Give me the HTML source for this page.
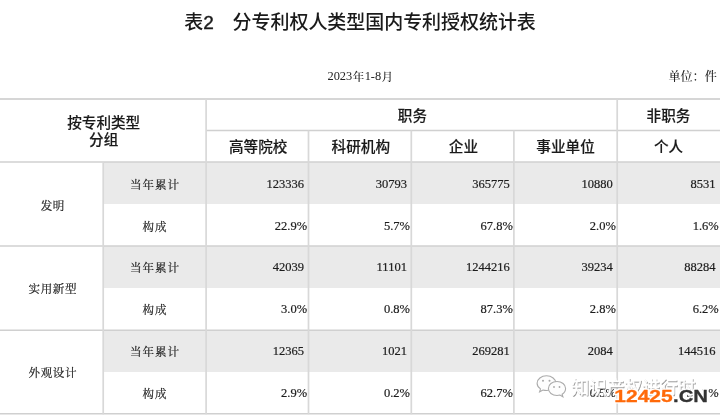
<!DOCTYPE html>
<html lang="zh-CN">
<head>
<meta charset="utf-8">
<title>表2 分专利权人类型国内专利授权统计表</title>
<style>
html,body{margin:0;padding:0;background:#fff;}
body{width:720px;height:419px;position:relative;overflow:hidden;
  font-family:"Liberation Serif","Noto Serif CJK SC",serif;color:#222;}
.abs{position:absolute;}
.title,.sub,.h,.c{filter:blur(0.35px);}
.title{left:0;width:720px;top:9.7px;text-align:center;font-family:"Liberation Sans","Noto Sans CJK SC",sans-serif;
  font-size:19px;font-weight:500;line-height:26px;color:#1a1a1a;letter-spacing:-0.05px;}
.sub{font-size:12.4px;line-height:16px;color:#222;font-weight:500;white-space:nowrap;}
.cj{font-size:11.6px;position:relative;top:0.8px;padding:0 0.4px;}
.band{left:103px;width:617px;background:#eaeaea;}
.h{font-family:"Liberation Sans","Noto Sans CJK SC",sans-serif;font-weight:500;font-size:14.6px;line-height:17.5px;text-align:center;color:#1a1a1a;white-space:nowrap;-webkit-text-stroke:0.15px #1a1a1a;}
.c{font-size:12.5px;line-height:18px;color:#1c1c1c;white-space:nowrap;-webkit-text-stroke:0.2px #1c1c1c;}
.lab{text-align:center;font-size:11.5px;letter-spacing:1px;text-indent:1px;}
.num{text-align:right;}
</style>
</head>
<body>

<div class="abs title">表<span style="-webkit-text-stroke:0.4px #1a1a1a;">2</span>　分专利权人类型国内专利授权统计表</div>
<div class="abs sub" style="left:260.5px;width:200px;top:68px;text-align:center;">2023<span class="cj">年</span>1-8<span class="cj">月</span></div>
<div class="abs sub" style="right:3.2px;top:69px;text-align:right;font-size:12.1px;">单位：件</div>

<!-- bands -->
<div class="abs band" style="top:162.3px;height:41.7px;"></div>
<div class="abs band" style="top:246.4px;height:41.6px;"></div>
<div class="abs band" style="top:330.5px;height:41.1px;"></div>

<!-- grid lines -->
<svg class="abs" style="left:0;top:0;" width="720" height="419" viewBox="0 0 720 419">
<g stroke="#d0d0d0" stroke-width="1.5" fill="none">
<line x1="0" x2="720" y1="99" y2="99" stroke="#d6d6d6" stroke-width="1.8"/>
<line x1="206" x2="720" y1="130.5" y2="130.5"/>
<line x1="0" x2="720" y1="162" y2="162"/>
<line x1="0" x2="720" y1="246.1" y2="246.1"/>
<line x1="0" x2="720" y1="330.2" y2="330.2"/>
<line x1="0" x2="720" y1="413.7" y2="413.7"/>
<line x1="103.2" x2="103.2" y1="162" y2="414.3" stroke="#d8d8d8" stroke-width="1.7"/>
<line x1="206.1" x2="206.1" y1="99" y2="414.3" stroke="#d8d8d8" stroke-width="1.7"/>
<line x1="308.5" x2="308.5" y1="130.5" y2="414.3" stroke="#d8d8d8" stroke-width="1.7"/>
<line x1="411.3" x2="411.3" y1="130.5" y2="414.3" stroke="#d8d8d8" stroke-width="1.7"/>
<line x1="513.9" x2="513.9" y1="130.5" y2="414.3" stroke="#d8d8d8" stroke-width="1.7"/>
<line x1="617.2" x2="617.2" y1="99" y2="414.3" stroke="#d8d8d8" stroke-width="1.7"/>
</g>
</svg>

<!-- headers -->
<div class="abs h" style="left:0.7px;width:206px;top:114.8px;">按专利类型<br>分组</div>
<div class="abs h" style="left:206.9px;width:411px;top:107.5px;">职务</div>
<div class="abs h" style="left:617px;width:103px;top:107.5px;">非职务</div>
<div class="abs h" style="left:207.0px;width:102.4px;top:139px;">高等院校</div>
<div class="abs h" style="left:309.4px;width:102.8px;top:139px;">科研机构</div>
<div class="abs h" style="left:412.1px;width:102.6px;top:139px;">企业</div>
<div class="abs h" style="left:513.9px;width:103.3px;top:139px;">事业单位</div>
<div class="abs h" style="left:617.2px;width:102.8px;top:139px;">个人</div>

<!-- group labels -->
<div class="abs c lab" style="left:0.8px;width:103px;top:196.5px;letter-spacing:0.6px;">发明</div>
<div class="abs c lab" style="left:0.8px;width:103px;top:280.3px;letter-spacing:0.6px;">实用新型</div>
<div class="abs c lab" style="left:0.8px;width:103px;top:364.1px;letter-spacing:0.6px;">外观设计</div>

<!-- rows -->
<div class="abs c lab" style="left:103px;width:103px;top:176px;">当年累计</div>
<div class="abs c num" style="right:416px;top:175px;">123336</div>
<div class="abs c num" style="right:313.1px;top:175px;">30793</div>
<div class="abs c num" style="right:210.2px;top:175px;">365775</div>
<div class="abs c num" style="right:107.3px;top:175px;">10880</div>
<div class="abs c num" style="right:4.4px;top:175px;">8531</div>
<div class="abs c lab" style="left:103px;width:103px;top:218px;">构成</div>
<div class="abs c num" style="right:412.9px;top:217px;">22.9%</div>
<div class="abs c num" style="right:310px;top:217px;">5.7%</div>
<div class="abs c num" style="right:207.1px;top:217px;">67.8%</div>
<div class="abs c num" style="right:104.2px;top:217px;">2.0%</div>
<div class="abs c num" style="right:1.3px;top:217px;">1.6%</div>
<div class="abs c lab" style="left:103px;width:103px;top:259px;">当年累计</div>
<div class="abs c num" style="right:416px;top:258px;">42039</div>
<div class="abs c num" style="right:313.1px;top:258px;">11101</div>
<div class="abs c num" style="right:210.2px;top:258px;">1244216</div>
<div class="abs c num" style="right:107.3px;top:258px;">39234</div>
<div class="abs c num" style="right:4.4px;top:258px;">88284</div>
<div class="abs c lab" style="left:103px;width:103px;top:301px;">构成</div>
<div class="abs c num" style="right:412.9px;top:300px;">3.0%</div>
<div class="abs c num" style="right:310px;top:300px;">0.8%</div>
<div class="abs c num" style="right:207.1px;top:300px;">87.3%</div>
<div class="abs c num" style="right:104.2px;top:300px;">2.8%</div>
<div class="abs c num" style="right:1.3px;top:300px;">6.2%</div>
<div class="abs c lab" style="left:103px;width:103px;top:343px;">当年累计</div>
<div class="abs c num" style="right:416px;top:342px;">12365</div>
<div class="abs c num" style="right:313.1px;top:342px;">1021</div>
<div class="abs c num" style="right:210.2px;top:342px;">269281</div>
<div class="abs c num" style="right:107.3px;top:342px;">2084</div>
<div class="abs c num" style="right:4.4px;top:342px;">144516</div>
<div class="abs c lab" style="left:103px;width:103px;top:385px;">构成</div>
<div class="abs c num" style="right:412.9px;top:384px;">2.9%</div>
<div class="abs c num" style="right:310px;top:384px;">0.2%</div>
<div class="abs c num" style="right:207.1px;top:384px;">62.7%</div>
<div class="abs c num" style="right:104.2px;top:384px;">0.5%</div>
<div class="abs c num" style="right:1.3px;top:384px;">33.7%</div>
<!-- watermark: wechat account + site logo -->
<svg class="abs" style="left:530px;top:368px;" width="190" height="51" viewBox="530 368 190 51">
<g fill="#fdfdfd" stroke="#ababab" stroke-width="1.1">
<path d="M546.5 375.8c-5.2 0-9.4 3.3-9.4 7.4 0 2.3 1.3 4.3 3.4 5.7l-0.9 2.9 3.4-1.8c1.1 0.3 2.2 0.5 3.5 0.5 5.2 0 9.4-3.2 9.4-7.3s-4.2-7.4-9.4-7.4z"/>
<path d="M557 381.5c-4.8 0-8.6 3.1-8.6 7s3.8 7 8.6 7c1 0 2-0.1 2.9-0.4l3 1.7-0.8-2.6c2.1-1.3 3.5-3.3 3.5-5.7 0-3.9-3.8-7-8.6-7z"/>
</g>
<g fill="#a8a8a8"><circle cx="543" cy="380.8" r="1"/><circle cx="549.5" cy="380.8" r="1"/><circle cx="554" cy="387" r="0.9"/><circle cx="559.5" cy="387" r="0.9"/></g>
<g font-family="'Liberation Sans','Noto Sans CJK SC',sans-serif" font-weight="400" font-size="17.7">
<text x="572.3" y="394.6" fill="#848484" stroke="#848484" stroke-width="0.35" opacity="0.85">知识产权进行时</text>
<text x="571.5" y="393.9" fill="#ffffff" stroke="#ffffff" stroke-width="0.5">知识产权进行时</text>
</g>
<g font-family="'Liberation Sans',sans-serif" font-weight="700" font-size="17" stroke-linejoin="round">
<text x="614.3" y="402" textLength="58.4" lengthAdjust="spacingAndGlyphs" fill="#fff" stroke="#fff" stroke-width="3">12425</text>
<text x="673" y="402" textLength="35" lengthAdjust="spacingAndGlyphs" fill="#fff" stroke="#fff" stroke-width="3">.CN</text>
<text x="614.3" y="402" textLength="58.4" lengthAdjust="spacingAndGlyphs" fill="#ff6a0a" stroke="#ff6a0a" stroke-width="0.3">12425</text>
<text x="673" y="402" textLength="35" lengthAdjust="spacingAndGlyphs" fill="#333" stroke="#333" stroke-width="0.3">.CN</text>
</g>
</svg>
</body>
</html>
